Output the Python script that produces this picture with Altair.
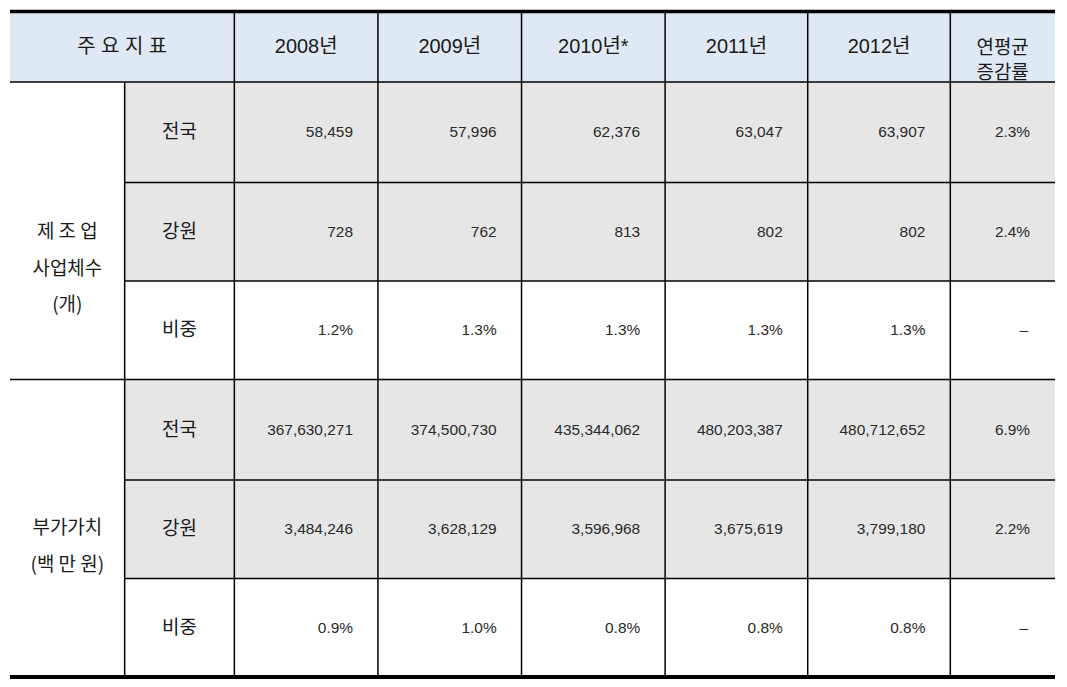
import altair as alt
import pandas as pd

# ---------------- data ----------------
corner_label = "주 요 지 표"
years = ["2008년", "2009년", "2010년*", "2011년", "2012년"]
rate_label = "연평균\n증감률"
group_labels = ["제 조 업\n사업체수\n(개)", "부가가치\n(백 만 원)"]
sub_labels = ["전국", "강원", "비중"]

est_total = [58459, 57996, 62376, 63047, 63907]
est_gw = [728, 762, 813, 802, 802]
est_share = [1.2, 1.3, 1.3, 1.3, 1.3]
va_total = [367630271, 374500730, 435344062, 480203387, 480712652]
va_gw = [3484246, 3628129, 3596968, 3675619, 3799180]
va_share = [0.9, 1.0, 0.8, 0.8, 0.8]
growth = [2.3, 2.4, None, 6.9, 2.2, None]

# ---------------- layout (pixel grid of the table) ----------------
col_edges = [7, 122, 232, 376, 520, 664, 807, 950, 1055]
row_edges = [8, 78, 180, 280, 380, 482, 582, 682]
PAD = 25
HEADER_BG = "#dfe9f4"
GRAY_BG = "#e6e6e6"
TXT = "#1a1a1a"
KFONT = "Noto Sans CJK KR"
NFONT = "Liberation Sans"

W, H = 1051, 671
xs = alt.Scale(domain=[8, 8 + W], nice=False, zero=False)
ys = alt.Scale(domain=[5, 684], nice=False, zero=False, reverse=True)

# backgrounds
bg = [dict(x=col_edges[0], x2=col_edges[-1], y=row_edges[0], y2=row_edges[1], c=HEADER_BG)]
for r in [0, 1, 3, 4]:
    bg.append(dict(x=col_edges[1], x2=col_edges[-1], y=row_edges[r + 1], y2=row_edges[r + 2], c=GRAY_BG))
bg_df = pd.DataFrame(bg)

# lines
lines = []
lines.append(dict(x=col_edges[0], x2=col_edges[-1], y=6.5, y2=6.5, w=3.5))
lines.append(dict(x=col_edges[0], x2=col_edges[-1], y=row_edges[1], y2=row_edges[1], w=1.5))
for r in [2, 3, 5, 6]:
    lines.append(dict(x=col_edges[1], x2=col_edges[-1], y=row_edges[r], y2=row_edges[r], w=1.5))
lines.append(dict(x=col_edges[0], x2=col_edges[-1], y=row_edges[4], y2=row_edges[4], w=1.5))
lines.append(dict(x=col_edges[0], x2=col_edges[-1], y=682, y2=682, w=4))
lines.append(dict(x=col_edges[1], x2=col_edges[1], y=row_edges[1], y2=row_edges[-1], w=1.5))
for c in range(2, 8):
    lines.append(dict(x=col_edges[c], x2=col_edges[c], y=row_edges[0], y2=row_edges[-1], w=1.5))
line_df = pd.DataFrame(lines)

def cx(i):
    return (col_edges[i] + col_edges[i + 1]) / 2

def cy(i):
    return (row_edges[i] + row_edges[i + 1]) / 2

# header texts
head = [dict(x=(col_edges[0] + col_edges[2]) / 2, y=cy(0), t=corner_label)]
for i, yr in enumerate(years):
    head.append(dict(x=cx(2 + i), y=cy(0), t=yr))
head_df = pd.DataFrame(head)
rate_df = pd.DataFrame([dict(x=cx(7), y=cy(0) + 1, t=rate_label)])

# row labels
lab = []
for g in range(2):
    for k, s in enumerate(sub_labels):
        lab.append(dict(x=cx(1), y=cy(1 + 3 * g + k), t=s))
lab_df = pd.DataFrame(lab)
grp_df = pd.DataFrame([
    dict(x=cx(0), y=(row_edges[1] + row_edges[4]) / 2 + 1, t=group_labels[0]),
    dict(x=cx(0), y=(row_edges[4] + row_edges[7]) / 2, t=group_labels[1]),
])

# values
series = [est_total, est_gw, est_share, va_total, va_gw, va_share]
is_pct = [False, False, True, False, False, True]
vals = []
for r, (ser, pct) in enumerate(zip(series, is_pct)):
    for i, v in enumerate(ser):
        t = f"{v:.1f}%" if pct else f"{v:,}"
        vals.append(dict(x=col_edges[3 + i] - PAD, y=cy(1 + r), t=t))
    g = growth[r]
    vals.append(dict(x=col_edges[8] - PAD - (2 if g is None else 0), y=cy(1 + r),
                     t="–" if g is None else f"{g:.1f}%"))
val_df = pd.DataFrame(vals)

X = lambda f="x": alt.X(f, type="quantitative", scale=xs, axis=None)
Y = lambda f="y": alt.Y(f, type="quantitative", scale=ys, axis=None)

rects = alt.Chart(bg_df).mark_rect().encode(
    x=X(), x2="x2", y=Y(), y2="y2", color=alt.Color("c:N", scale=None)
)
rules = alt.Chart(line_df).mark_rule(color="#000000").encode(
    x=X(), x2="x2", y=Y(), y2="y2", strokeWidth=alt.StrokeWidth("w:Q", scale=None)
)
head_txt = alt.Chart(head_df).mark_text(
    font=f"{NFONT}, {KFONT}", fontSize=20, color=TXT, align="center", baseline="middle"
).encode(x=X(), y=Y(), text="t:N")
rate_txt = alt.Chart(rate_df).mark_text(
    font=KFONT, fontSize=19, color=TXT, align="center", baseline="middle",
    lineBreak="\n", lineHeight=25
).encode(x=X(), y=Y(), text="t:N")
lab_txt = alt.Chart(lab_df).mark_text(
    font=KFONT, fontSize=19, color=TXT, align="center", baseline="middle"
).encode(x=X(), y=Y(), text="t:N")
grp_txt = alt.Chart(grp_df).mark_text(
    font=KFONT, fontSize=19, color=TXT, align="center", baseline="middle",
    lineBreak="\n", lineHeight=37
).encode(x=X(), y=Y(), text="t:N")
val_txt = alt.Chart(val_df).mark_text(
    font=NFONT, fontSize=15.5, color="#2a2a2a", align="right", baseline="middle"
).encode(x=X(), y=Y(), text="t:N")

chart = alt.layer(rects, rules, head_txt, rate_txt, lab_txt, grp_txt, val_txt).properties(
    width=W, height=H, padding=0
).configure_view(stroke=None)

chart.save("out.html", embed_options={"renderer": "svg", "actions": False})
